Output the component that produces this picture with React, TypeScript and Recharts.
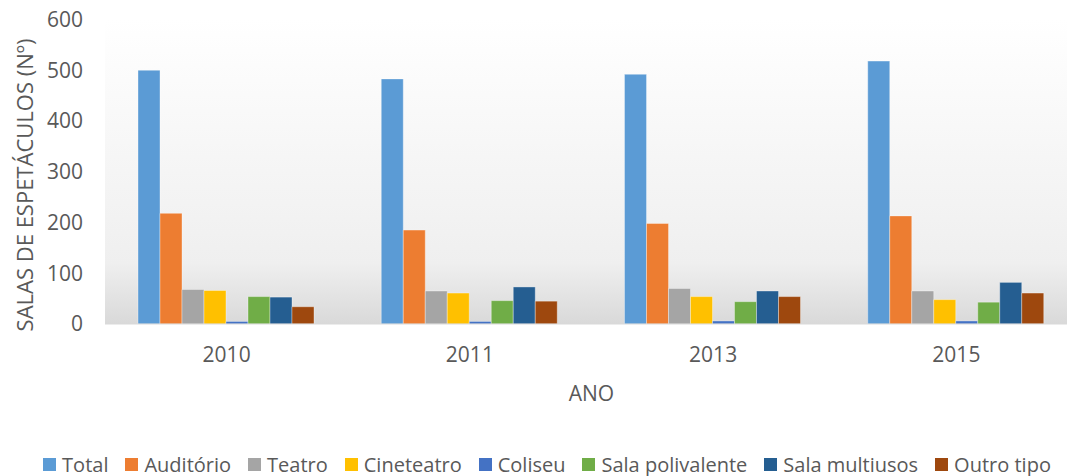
import React from "react";
import {
  BarChart,
  Bar,
  XAxis,
  YAxis,
  CartesianGrid,
  Legend,
} from "recharts";

const years = ["2010", "2011", "2013", "2015"];
const total = [500, 483, 492, 518];
const auditorio = [218, 185, 198, 213];
const teatro = [68, 65, 70, 65];
const cineteatro = [66, 61, 54, 48];
const coliseu = [5, 5, 6, 6];
const salaPolivalente = [54, 46, 44, 43];
const salaMultiusos = [53, 73, 65, 82];
const outroTipo = [34, 45, 54, 61];
const yTicks = [0, 100, 200, 300, 400, 500, 600];

const series = [
  { key: "total", name: "Total", color: "#5B9BD5", values: total },
  { key: "auditorio", name: "Auditório", color: "#ED7D31", values: auditorio },
  { key: "teatro", name: "Teatro", color: "#A5A5A5", values: teatro },
  { key: "cineteatro", name: "Cineteatro", color: "#FFC000", values: cineteatro },
  { key: "coliseu", name: "Coliseu", color: "#4472C4", values: coliseu },
  { key: "polivalente", name: "Sala polivalente", color: "#70AD47", values: salaPolivalente },
  { key: "multiusos", name: "Sala multiusos", color: "#255E91", values: salaMultiusos },
  { key: "outro", name: "Outro tipo", color: "#9E480E", values: outroTipo },
];

const data = years.map((year, i) => {
  const row: Record<string, string | number> = { year };
  series.forEach((s) => {
    row[s.key] = s.values[i];
  });
  return row;
});

const FONT = "'Open Sans', 'Liberation Sans', sans-serif";
const TEXT = "#595959";

function LegendContent() {
  return (
    <div
      style={{
        display: "flex",
        justifyContent: "center",
        alignItems: "center",
        height: 30,
        paddingTop: 6,
        paddingLeft: 33,
        boxSizing: "border-box",
        fontFamily: FONT,
        fontSize: 20,
        color: TEXT,
        whiteSpace: "nowrap",
      }}
    >
      {series.map((s) => (
        <span
          key={s.key}
          style={{ display: "inline-flex", alignItems: "center", marginRight: 17 }}
        >
          <span
            style={{
              display: "inline-block",
              width: 13,
              height: 13,
              background: s.color,
              marginRight: 6,
            }}
          />
          {s.name}
        </span>
      ))}
    </div>
  );
}

function YTitle() {
  const cx = 24;
  const cy = 185;
  return (
    <text
      x={cx}
      y={cy}
      transform={`rotate(-90 ${cx} ${cy})`}
      textAnchor="middle"
      dominantBaseline="central"
      fill={TEXT}
      fontFamily={FONT}
      fontSize={22}
    >
      SALAS DE ESPETÁCULOS (Nº)
    </text>
  );
}

export default function App() {
  return (
    <div
      style={{
        position: "absolute",
        left: 0,
        top: 0,
        width: 1067,
        height: 476,
        overflow: "hidden",
        background: "#fff",
      }}
    >
      <BarChart
        width={1080}
        height={476}
        data={data}
        margin={{ top: 19.5, right: 2, left: 0, bottom: 0 }}
        barCategoryGap={33}
        barGap={0}
      >
        <defs>
          <linearGradient id="plotBg" x1="0" y1="0" x2="0" y2="1">
            <stop offset="0%" stopColor="#ffffff" />
            <stop offset="80%" stopColor="#efefef" />
            <stop offset="100%" stopColor="#d9d9d9" />
          </linearGradient>
        </defs>
        <CartesianGrid horizontal={false} vertical={false} fill="url(#plotBg)" />
        <XAxis
          dataKey="year"
          height={122}
          tickLine={false}
          axisLine={{ stroke: "#d9d9d9" }}
          tickMargin={17}
          tick={{ fill: TEXT, fontSize: 21, fontFamily: FONT }}
          label={{
            value: "ANO",
            position: "insideTop",
            offset: 62,
            fill: TEXT,
            fontSize: 21,
            fontFamily: FONT,
          }}
        />
        <YAxis
          width={105}
          domain={[0, 600]}
          ticks={yTicks}
          tickLine={false}
          axisLine={false}
          tickMargin={16}
          tick={{ fill: TEXT, fontSize: 21, fontFamily: FONT }}
          label={<YTitle />}
        />
        <Legend verticalAlign="bottom" height={30} content={<LegendContent />} />
        {series.map((s) => (
          <Bar
            key={s.key}
            dataKey={s.key}
            name={s.name}
            fill={s.color}
            stroke="#ffffff"
            strokeOpacity={0.35}
            strokeWidth={1}
            isAnimationActive={false}
          />
        ))}
      </BarChart>
    </div>
  );
}
